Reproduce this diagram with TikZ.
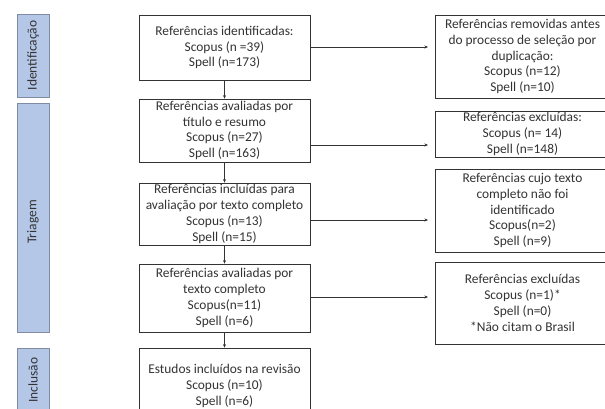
\documentclass[tikz,border=0pt]{standalone}
\usepackage{fontspec}
\setmainfont{Carlito}
\usetikzlibrary{arrows.meta}
\definecolor{barfill}{HTML}{B4C7E7}
\definecolor{barline}{HTML}{7F8CA3}
\definecolor{ink}{HTML}{333333}
\tikzset{
  flowbox/.style={draw=ink, line width=0.7pt, fill=white, align=center, inner sep=0pt,
    font=\fontsize{13.4}{15.8}\selectfont, text=ink},
  sidebar/.style={draw=barline, line width=0.8pt, fill=barfill, minimum width=32pt, inner sep=0pt},
  sidetext/.style={rotate=90, font=\fontsize{13.4}{15}\selectfont, text=ink},
  arr/.style={draw=ink, line width=0.6pt, -{Stealth[length=3.5pt,width=3pt]}}
}
\begin{document}
\begin{tikzpicture}[x=1pt,y=-1pt]
\useasboundingbox[fill=white] (0,0) rectangle (605,408);
% side bars
\node[sidebar, minimum height=83pt] (s1) at (33,55.5) {};
\node[sidetext] (t1) at (s1.center) {Identificação};
\node[sidebar, minimum height=229pt] (s2) at (33,217.5) {};
\node[sidetext] (t2) at (33,222) {Triagem};
\node[sidebar, minimum height=64pt] (s3) at (33,380) {};
\node[sidetext] (t3) at (s3.center) {Inclusão};
% main boxes
\node[flowbox, minimum width=171pt, minimum height=65pt] (b1) at (224.5,47.5)
  {Referências identificadas:\\Scopus (n =39)\\Spell (n=173)};
\node[flowbox, minimum width=171pt, minimum height=63pt] (b2) at (224.5,130.5)
  {Referências avaliadas por\\título e resumo\\Scopus (n=27)\\Spell (n=163)};
\node[flowbox, minimum width=171pt, minimum height=62pt] (b3) at (224.5,214)
  {Referências incluídas para\\avaliação por texto completo\\Scopus (n=13)\\Spell (n=15)};
\node[flowbox, minimum width=171pt, minimum height=68pt] (b4) at (224.5,298)
  {Referências avaliadas por\\texto completo\\Scopus(n=11)\\Spell (n=6)};
\node[flowbox, minimum width=171pt, minimum height=76pt] (b5) at (224.5,386)
  {Estudos incluídos na revisão\\Scopus (n=10)\\Spell (n=6)};
% right boxes
\node[flowbox, minimum width=175pt, minimum height=83pt] (r1) at (522.5,56.5)
  {Referências removidas antes\\do processo de seleção por\\duplicação:\\Scopus (n=12)\\Spell (n=10)};
\node[flowbox, minimum width=175pt, minimum height=46pt] (r2) at (522.5,134)
  {Referências excluídas:\\Scopus (n= 14)\\Spell (n=148)};
\node[flowbox, minimum width=175pt, minimum height=83pt] (r3) at (522.5,210.5)
  {Referências cujo texto\\completo não foi\\identificado\\Scopus(n=2)\\Spell (n=9)};
\node[flowbox, minimum width=175pt, minimum height=82pt] (r4) at (522.5,303)
  {Referências excluídas\\Scopus (n=1)*\\Spell (n=0)\\*Não citam o Brasil};
% arrow end points
\coordinate (a1) at (428,47);
\coordinate (a2) at (428,145);
\coordinate (a3) at (428,220);
\coordinate (a4) at (428,297);
% horizontal arrows
\draw[arr] (b1.east |- a1) -- (a1);
\draw[arr] (b2.east |- a2) -- (a2);
\draw[arr] (b3.east |- a3) -- (a3);
\draw[arr] (b4.east |- a4) -- (a4);
% vertical arrows
\draw[arr] (b1.south) -- (b2.north);
\draw[arr] (b2.south) -- (b3.north);
\draw[arr] (b3.south) -- (b4.north);
\draw[arr] (b4.south) -- (b5.north);
\end{tikzpicture}
\end{document}
